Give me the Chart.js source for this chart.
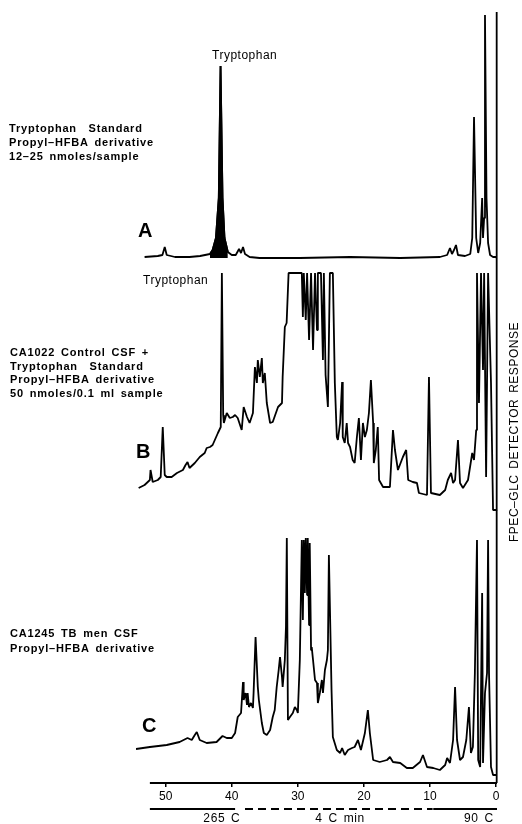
<!DOCTYPE html>
<html>
<head>
<meta charset="utf-8">
<title>FPEC-GLC chromatograms of tryptophan and CSF</title>
<script src="https://cdn.jsdelivr.net/npm/chart.js@4.4.1/dist/chart.umd.min.js"></script>
<style>
  html, body { margin: 0; padding: 0; background: #fff; }
  canvas { display: block; }
</style>
</head>
<body>
<canvas id="chromatogram" width="522" height="824"></canvas>
<script>
// [retention time (min), detector deflection above the trace's own baseline]
const traceA = [
  [53.2, 1], [51.2, 2], [50.5, 3], [50.15, 11], [49.85, 3], [48.6, 1], [46.4, 1], [44.8, 2],
  [43.3, 4], [42.9, 8], [42.4, 20], [41.97, 60], [41.7, 192], [41.4, 60], [41.1, 20], [40.6, 6],
  [40.0, 3], [39.4, 3], [38.9, 9], [38.6, 5], [38.3, 11], [38.0, 4], [37.3, 1], [35.8, 0],
  [29.7, 0], [22.1, 1], [14.5, 0], [8.5, 1], [7.4, 3], [6.97, 10], [6.67, 4], [6.36, 8],
  [6.06, 13], [5.76, 3], [4.7, 2], [3.9, 4], [3.6, 20], [3.33, 141], [3.0, 20], [2.7, 5],
  [2.4, 15], [2.1, 60], [1.97, 20], [1.8, 40], [1.67, 243], [1.44, 60], [1.2, 15], [0.9, 3],
  [0.45, 1], [0.0, 1], [-0.1, 0], [-0.1, 246]
];

const traceB = [
  [54.1, 27], [53.2, 30], [52.4, 35], [52.3, 45], [51.97, 33], [51.2, 35], [50.76, 38], [50.45, 88],
  [50.15, 40], [49.85, 38], [49.1, 38], [48.3, 42], [47.4, 45], [47.0, 50], [46.7, 53], [46.4, 47],
  [45.6, 52], [44.85, 58], [44.1, 62], [43.8, 67], [43.3, 68], [42.9, 70], [42.1, 82], [41.67, 88],
  [41.5, 242], [41.3, 100], [41.2, 92], [40.76, 102], [40.3, 97], [39.85, 98], [39.5, 100], [39.1, 97],
  [38.5, 85], [38.2, 108], [37.7, 98], [37.3, 92], [36.8, 102], [36.5, 148], [36.2, 132], [36.06, 155],
  [35.76, 138], [35.45, 157], [35.3, 132], [35.0, 142], [34.7, 112], [34.2, 92], [33.8, 93], [33.0, 108],
  [32.4, 112], [32.3, 138], [31.97, 188], [31.7, 192], [31.4, 242], [29.4, 242], [29.24, 198], [29.1, 242],
  [28.8, 195], [28.6, 242], [28.3, 175], [28.0, 242], [27.7, 165], [27.4, 242], [27.1, 185], [26.97, 242],
  [26.5, 242], [26.2, 155], [26.06, 242], [25.8, 140], [25.45, 108], [25.15, 242], [24.7, 242], [24.4, 132],
  [24.1, 78], [23.94, 75], [23.6, 92], [23.3, 133], [23.2, 78], [22.9, 72], [22.6, 92], [22.4, 72],
  [22.1, 68], [21.7, 55], [21.4, 52], [21.06, 78], [20.76, 97], [20.45, 55], [20.15, 92], [19.85, 78],
  [19.55, 85], [19.24, 102], [18.94, 135], [18.6, 92], [18.5, 52], [18.2, 65], [17.9, 88], [17.7, 35],
  [17.1, 28], [16.06, 28], [15.6, 85], [15.3, 65], [14.85, 45], [14.1, 58], [13.6, 65], [13.3, 35],
  [12.6, 33], [11.97, 32], [11.67, 22], [10.45, 20], [10.15, 138], [9.85, 22], [8.5, 20], [7.7, 25],
  [7.3, 35], [6.8, 42], [6.5, 32], [6.2, 35], [5.76, 75], [5.45, 32], [5.0, 27], [4.24, 35],
  [3.6, 62], [3.33, 55], [3.0, 85], [2.88, 242], [2.58, 112], [2.27, 242], [1.97, 145], [1.8, 242],
  [1.5, 38], [1.2, 242], [0.76, 132], [0.45, 5], [-0.1, 5], [-0.1, 257]
];

const traceC = [
  [54.5, 26], [52.4, 28], [49.85, 30], [47.9, 33], [46.7, 37], [46.06, 35], [45.6, 40], [45.3, 43],
  [44.85, 35], [43.8, 32], [42.3, 33], [41.4, 39], [40.76, 37], [40.0, 37], [39.5, 42], [39.1, 58],
  [38.6, 62], [38.3, 93], [38.2, 75], [37.9, 82], [37.7, 70], [37.6, 82], [37.4, 68], [37.1, 72],
  [36.8, 67], [36.7, 82], [36.4, 138], [36.06, 88], [35.9, 75], [35.45, 52], [35.15, 42], [34.7, 40],
  [34.2, 45], [33.8, 58], [33.5, 65], [33.2, 88], [32.9, 105], [32.7, 118], [32.4, 98], [32.3, 88],
  [31.97, 115], [31.8, 148], [31.67, 237], [31.5, 55], [31.2, 58], [30.76, 62], [30.45, 68], [30.15, 65],
  [30.0, 62], [29.7, 115], [29.4, 235], [29.24, 155], [29.1, 235], [28.94, 182], [28.8, 237], [28.6, 180],
  [28.5, 237], [28.3, 150], [28.2, 232], [28.0, 125], [27.9, 128], [27.7, 115], [27.4, 95], [27.1, 92],
  [26.97, 72], [26.67, 82], [26.36, 95], [26.2, 82], [25.9, 105], [25.6, 115], [25.45, 125], [25.3, 220],
  [24.9, 85], [24.7, 38], [24.1, 25], [23.6, 22], [23.3, 27], [22.9, 20], [22.4, 25], [21.8, 27],
  [21.4, 28], [20.9, 35], [20.45, 25], [19.85, 42], [19.4, 65], [19.1, 42], [18.6, 15], [17.6, 13],
  [16.5, 15], [16.06, 18], [15.6, 13], [14.5, 12], [13.5, 7], [12.6, 7], [11.5, 13], [11.06, 20],
  [10.45, 8], [9.5, 7], [8.5, 5], [7.7, 10], [7.4, 17], [6.97, 12], [6.5, 35], [6.2, 88],
  [5.9, 35], [5.45, 15], [5.0, 18], [4.5, 35], [4.1, 68], [3.8, 22], [3.5, 28], [3.2, 102],
  [2.88, 235], [2.7, 15], [2.4, 8], [2.1, 182], [1.97, 12], [1.67, 82], [1.36, 102], [1.2, 235],
  [1.06, 102], [0.76, 8], [0.45, 0], [-0.1, 0], [-0.1, 265], [-0.1, -8]
];

const trpPeakA = [40.6, 43.3];          // retention window shaded black in trace A
const timeTicks = [50, 40, 30, 20, 10, 0];
const timeAxisStart = 52.4;

// oven programme under the time axis
const tempProgram = [
  { from: 52.4, to: 39.5, dashed: false },
  { from: 38.0, to: 9.6, dashed: true },
  { from: 9.5, to: -0.15, dashed: false }
];
const tempLabels = [
  { t: 41.5, text: '265 C' },
  { t: 23.6, text: '4 C min' },
  { t: 2.6, text: '90 C' }
];

const descA = ['Tryptophan  Standard', 'Propyl\u2013HFBA derivative', '12\u201325 nmoles/sample'];
const descB = ['CA1022 Control CSF +', 'Tryptophan  Standard', 'Propyl\u2013HFBA derivative', '50 nmoles/0.1 ml sample'];
const descC = ['CA1245 TB men CSF', 'Propyl\u2013HFBA derivative'];

// vertical stacking of the three recordings on one response scale
const baseline = { A: 525, B: 268, C: 8 };

const FONT = '"Liberation Sans", Arial, sans-serif';
Chart.defaults.font.family = FONT;
Chart.defaults.color = '#000';

const toPoints = (trace, base) => trace.map(([t, v]) => ({ x: t, y: base + v }));

const lineStyle = {
  borderColor: '#000',
  borderWidth: 1.8,
  borderJoinStyle: 'bevel',
  pointRadius: 0,
  tension: 0,
  fill: false
};

function label(ctx, str, x, y, font, spacing, align) {
  ctx.font = font;
  ctx.letterSpacing = (spacing || 0) + 'px';
  ctx.wordSpacing = '2px';
  ctx.textAlign = align || 'left';
  ctx.fillText(str, x, y);
}

const annotations = {
  id: 'annotations',
  afterDraw(chart) {
    const { ctx, chartArea, scales: { x } } = chart;
    ctx.save();
    ctx.strokeStyle = '#000';
    ctx.fillStyle = '#000';
    ctx.textBaseline = 'alphabetic';

    // time axis line
    ctx.lineWidth = 2;
    ctx.beginPath();
    ctx.moveTo(x.getPixelForValue(timeAxisStart), chartArea.bottom);
    ctx.lineTo(x.getPixelForValue(-0.15), chartArea.bottom);
    ctx.stroke();

    // temperature programme
    const ty = chartArea.bottom + 26;
    tempProgram.forEach(seg => {
      ctx.setLineDash(seg.dashed ? [8, 5] : []);
      ctx.beginPath();
      ctx.moveTo(x.getPixelForValue(seg.from), ty);
      ctx.lineTo(x.getPixelForValue(seg.to), ty);
      ctx.stroke();
    });
    ctx.setLineDash([]);
    tempLabels.forEach(l => label(ctx, l.text, x.getPixelForValue(l.t), ty + 13, '12px ' + FONT, 0.6, 'center'));

    // sample descriptions
    const bold = 'bold 11px ' + FONT;
    descA.forEach((s, i) => label(ctx, s, 9, 132 + i * 14, bold, 0.8));
    descB.forEach((s, i) => label(ctx, s, 10, 356 + i * 13.5, bold, 0.8));
    descC.forEach((s, i) => label(ctx, s, 10, 637 + i * 15, bold, 0.8));

    // panel letters
    const big = 'bold 20px ' + FONT;
    label(ctx, 'A', 138, 237, big);
    label(ctx, 'B', 136, 458, big);
    label(ctx, 'C', 142, 732, big);

    // peak names
    label(ctx, 'Tryptophan', 212, 58.5, '12px ' + FONT, 0.5);
    label(ctx, 'Tryptophan', 143, 283.5, '12px ' + FONT, 0.5);

    // response axis title, reading upwards
    ctx.translate(515, 432);
    ctx.rotate(-Math.PI / 2);
    ctx.textBaseline = 'middle';
    ctx.font = '12px ' + FONT;
    ctx.letterSpacing = '0px';
    const title = 'FPEC\u2013GLC DETECTOR RESPONSE';
    const gap = (220 - ctx.measureText(title).width) / title.length;
    label(ctx, title, 0, 0, '12px ' + FONT, gap, 'center');
    ctx.restore();
  }
};

const ctx = document.getElementById('chromatogram').getContext('2d');

new Chart(ctx, {
  type: 'line',
  data: {
    datasets: [
      { label: 'A', data: toPoints(traceA, baseline.A), ...lineStyle },
      {
        label: 'A tryptophan',
        data: toPoints(traceA.filter(([t]) => t >= trpPeakA[0] && t <= trpPeakA[1]), baseline.A),
        ...lineStyle,
        fill: { value: baseline.A },
        backgroundColor: '#000'
      },
      { label: 'B', data: toPoints(traceB, baseline.B), ...lineStyle },
      { label: 'C', data: toPoints(traceC, baseline.C), ...lineStyle }
    ]
  },
  options: {
    responsive: false,
    animation: false,
    devicePixelRatio: 1,
    layout: { padding: { left: 136, right: 24, top: 8, bottom: 0 } },
    scales: {
      x: {
        type: 'linear',
        reverse: true,
        min: -0.3,
        max: 54.5,
        afterBuildTicks: s => { s.ticks = timeTicks.map(v => ({ value: v })); },
        afterFit: s => { s.height = 41; },
        border: { display: false },
        grid: { drawOnChartArea: false, color: '#000', lineWidth: 1.5, tickLength: 4 },
        ticks: { color: '#000', font: { size: 12 }, padding: 2, maxRotation: 0, autoSkip: false }
      },
      y: { display: false, min: 0, max: 775 }
    },
    plugins: {
      legend: { display: false },
      tooltip: { enabled: false }
    }
  },
  plugins: [annotations]
});
</script>
</body>
</html>
